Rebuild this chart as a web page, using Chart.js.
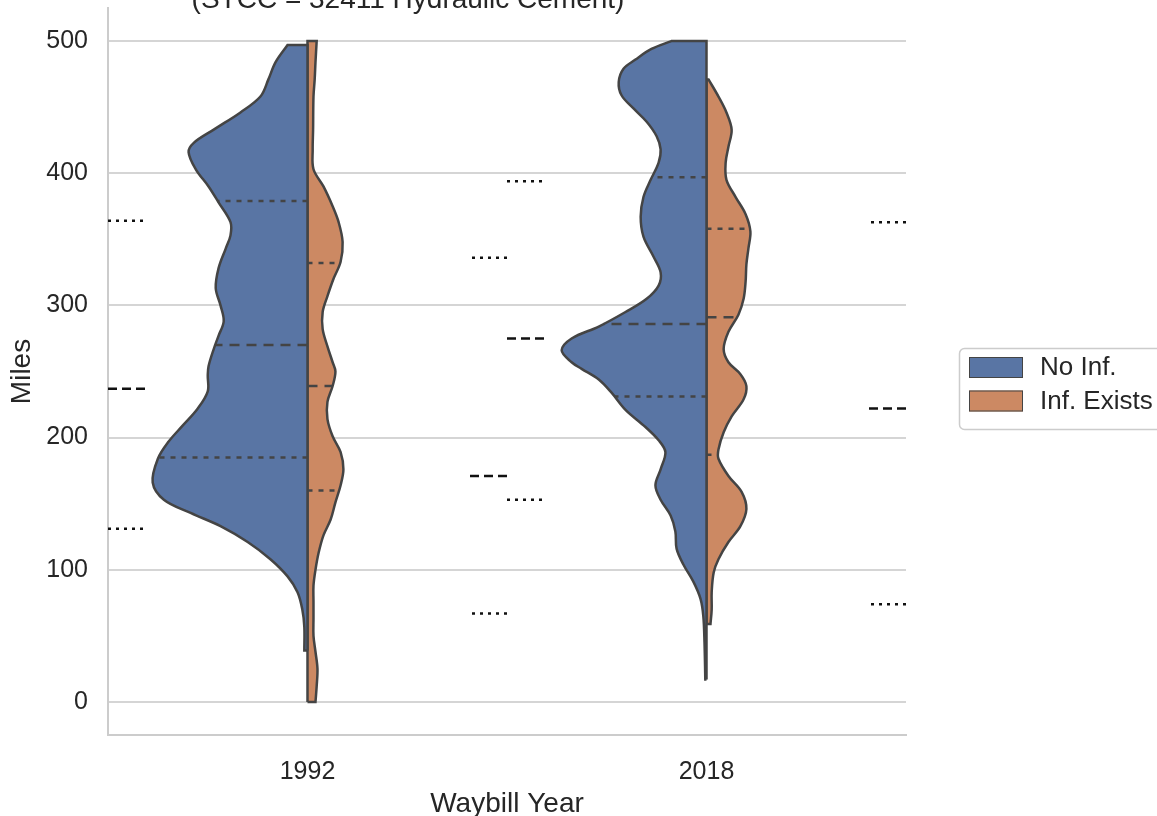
<!DOCTYPE html>
<html>
<head>
<meta charset="utf-8">
<title>Waybill miles by year</title>
<script src="https://cdn.jsdelivr.net/npm/chart.js@4.4.0/dist/chart.umd.min.js"></script>
<style>
  html, body { margin: 0; padding: 0; background: #fff; }
  canvas { display: block; }
</style>
</head>
<body>
<canvas id="violinChart" width="1157" height="816"></canvas>
<script>
const years = ['1992', '2018'];
const groups = ['No Inf.', 'Inf. Exists'];
const groupColors = ['#5975a4', '#cc8963'];
const yTicks = [0, 100, 200, 300, 400, 500];

// kernel density half-widths (category units) along the miles axis
const noInf1992Miles = [39, 57, 70, 83, 95, 108, 121, 133, 143, 153, 166, 184, 197, 209, 222, 235, 247, 254, 267, 277, 288, 300, 313, 328, 343, 353, 363, 378, 390, 403, 416, 423, 433, 446, 458, 471, 484, 497];
const noInf1992Width = [0.008, 0.008, 0.013, 0.025, 0.05, 0.093, 0.15, 0.218, 0.293, 0.36, 0.388, 0.375, 0.348, 0.313, 0.275, 0.25, 0.25, 0.248, 0.235, 0.223, 0.21, 0.218, 0.23, 0.223, 0.205, 0.193, 0.193, 0.223, 0.248, 0.28, 0.298, 0.285, 0.235, 0.168, 0.118, 0.098, 0.08, 0.05];
const noInf1992Quartiles = [185, 270, 379];

const inf1992Miles = [0, 12, 25, 38, 50, 63, 76, 88, 100, 113, 126, 138, 151, 164, 176, 189, 201, 214, 227, 239, 250, 257, 269, 282, 295, 307, 320, 333, 348, 363, 375, 390, 403, 418, 433, 458, 471, 484, 500];
const inf1992Width = [0.02, 0.023, 0.025, 0.02, 0.015, 0.015, 0.015, 0.015, 0.02, 0.028, 0.04, 0.058, 0.07, 0.083, 0.09, 0.083, 0.063, 0.05, 0.05, 0.063, 0.07, 0.063, 0.05, 0.038, 0.038, 0.05, 0.065, 0.083, 0.088, 0.078, 0.063, 0.04, 0.015, 0.013, 0.014, 0.015, 0.018, 0.02, 0.023];
const inf1992Quartiles = [160, 239, 332];

const noInf2018Miles = [17, 45, 65, 78, 91, 104, 116, 129, 141, 153, 164, 176, 189, 198, 208, 221, 234, 244, 252, 257, 266, 275, 284, 295, 305, 315, 325, 337, 352, 367, 382, 395, 408, 418, 428, 439, 449, 459, 469, 479, 486, 494, 500];
const noInf2018Width = [0.003, 0.005, 0.008, 0.015, 0.033, 0.058, 0.075, 0.078, 0.09, 0.115, 0.128, 0.115, 0.103, 0.12, 0.153, 0.203, 0.238, 0.27, 0.313, 0.338, 0.363, 0.338, 0.27, 0.203, 0.15, 0.12, 0.115, 0.133, 0.158, 0.165, 0.158, 0.14, 0.12, 0.115, 0.125, 0.15, 0.183, 0.213, 0.22, 0.208, 0.178, 0.138, 0.088];
const noInf2018Quartiles = [231, 286, 397];

const inf2018Miles = [59, 70, 83, 98, 108, 121, 133, 146, 159, 171, 184, 191, 204, 216, 229, 239, 248, 257, 267, 280, 293, 305, 318, 331, 343, 356, 369, 382, 395, 408, 420, 433, 446, 458, 471];
const inf2018Width = [0.01, 0.013, 0.013, 0.018, 0.03, 0.055, 0.085, 0.1, 0.088, 0.055, 0.03, 0.03, 0.043, 0.063, 0.093, 0.1, 0.085, 0.055, 0.043, 0.055, 0.08, 0.093, 0.098, 0.1, 0.105, 0.11, 0.098, 0.073, 0.05, 0.048, 0.055, 0.063, 0.05, 0.03, 0.005];
const inf2018Quartiles = [187, 291, 358];

// zero-width quartile marks sitting between the categories
const gapCenters = [-0.5, 0.5, 0.5, 1.5];
const gapSides = [1, -1, 1, -1];
const gapQuartiles = [[131, 237, 364], [67, 171, 336], [153, 275, 394], [74, 222, 363]];

const OUTLINE = '#444444';
const TEXT = '#262626';

Chart.defaults.font.family = '"Liberation Sans", Arial, sans-serif';
Chart.defaults.color = TEXT;

// closed half-violin outline; corner points doubled so the curve stays sharp there
function halfViolin(center, side, miles, widths) {
  const pts = [];
  const last = miles.length - 1;
  pts.push({ x: center, y: miles[0] }, { x: center, y: miles[0] });
  pts.push({ x: center + side * widths[0], y: miles[0] });
  for (let i = 0; i <= last; i++) {
    pts.push({ x: center + side * widths[i], y: miles[i] });
  }
  pts.push({ x: center + side * widths[last], y: miles[last] });
  pts.push({ x: center, y: miles[last] }, { x: center, y: miles[last] });
  pts.push({ x: center, y: miles[0] });
  return pts;
}

function widthAt(miles, widths, v) {
  for (let i = 1; i < miles.length; i++) {
    if (v <= miles[i]) {
      const t = (v - miles[i - 1]) / (miles[i] - miles[i - 1]);
      return widths[i - 1] + t * (widths[i] - widths[i - 1]);
    }
  }
  return widths[widths.length - 1];
}

const violins = [
  { center: 0, side: -1, miles: noInf1992Miles, widths: noInf1992Width, q: noInf1992Quartiles, group: 0 },
  { center: 0, side: 1, miles: inf1992Miles, widths: inf1992Width, q: inf1992Quartiles, group: 1 },
  { center: 1, side: -1, miles: noInf2018Miles, widths: noInf2018Width, q: noInf2018Quartiles, group: 0 },
  { center: 1, side: 1, miles: inf2018Miles, widths: inf2018Width, q: inf2018Quartiles, group: 1 }
];

const datasets = [];

violins.forEach((v) => {
  datasets.push({
    label: groups[v.group],
    data: halfViolin(v.center, v.side, v.miles, v.widths),
    backgroundColor: groupColors[v.group],
    borderColor: OUTLINE,
    borderWidth: 2.5,
    fill: 'shape',
    tension: 0.35,
    pointRadius: 0,
    order: 2
  });
  v.q.forEach((val, k) => {
    const w = widthAt(v.miles, v.widths, val);
    datasets.push({
      label: 'quartile',
      data: [{ x: v.center, y: val }, { x: v.center + v.side * w, y: val }],
      borderColor: OUTLINE,
      borderWidth: 2.5,
      borderDash: k === 1 ? [10, 7] : [5, 6],
      fill: false,
      pointRadius: 0,
      order: 1
    });
  });
});

gapCenters.forEach((c, g) => {
  gapQuartiles[g].forEach((val, k) => {
    datasets.push({
      label: 'gap',
      data: [{ x: c, y: val }, { x: c + gapSides[g] * 0.1, y: val }],
      borderColor: '#111111',
      borderWidth: 2.5,
      borderDash: k === 1 ? [9, 5] : [3, 5],
      fill: false,
      pointRadius: 0,
      order: 0
    });
  });
});

const extras = {
  id: 'extras',
  afterDraw(chart) {
    const ctx = chart.ctx;
    ctx.save();
    // title, its top half runs off the page
    ctx.fillStyle = TEXT;
    ctx.font = '28px "Liberation Sans", Arial, sans-serif';
    ctx.textAlign = 'center';
    ctx.textBaseline = 'alphabetic';
    ctx.fillText('(STCC = 32411 Hydraulic Cement)', 408, 8);

    // legend
    ctx.beginPath();
    ctx.roundRect(959.5, 348.5, 240, 81, 5);
    ctx.fillStyle = 'rgba(255,255,255,0.8)';
    ctx.fill();
    ctx.strokeStyle = '#cccccc';
    ctx.lineWidth = 1.5;
    ctx.stroke();
    ctx.font = '26px "Liberation Sans", Arial, sans-serif';
    ctx.textAlign = 'left';
    ctx.textBaseline = 'middle';
    groups.forEach((g, i) => {
      const y = 357 + i * 33.5;
      ctx.fillStyle = groupColors[i];
      ctx.fillRect(969, y, 54, 21);
      ctx.strokeStyle = OUTLINE;
      ctx.lineWidth = 1;
      ctx.strokeRect(969.5, y + 0.5, 53, 20);
      ctx.fillStyle = TEXT;
      ctx.fillText(g, 1040, y + 11);
    });
    ctx.restore();
  }
};

new Chart(document.getElementById('violinChart'), {
  type: 'line',
  data: { datasets },
  options: {
    responsive: false,
    animation: false,
    events: [],
    layout: { padding: { left: 0, top: 8, right: 251, bottom: 0 } },
    plugins: {
      legend: { display: false },
      tooltip: { enabled: false }
    },
    scales: {
      x: {
        type: 'linear',
        min: -0.5,
        max: 1.5,
        afterBuildTicks: (s) => { s.ticks = years.map((_, i) => ({ value: i })); },
        afterFit: (s) => {
          s.height = 81;
          s.paddingLeft = 0;
          s.paddingRight = 0;
        },
        ticks: {
          font: { size: 25 },
          color: TEXT,
          padding: 22,
          maxRotation: 0,
          callback: (v) => years[v]
        },
        grid: { display: false, drawTicks: false },
        border: { display: true, color: '#cccccc', width: 2 },
        title: {
          display: true,
          text: 'Waybill Year',
          font: { size: 28, lineHeight: 1 },
          color: TEXT,
          padding: { top: 0, bottom: -2 }
        }
      },
      y: {
        type: 'linear',
        min: -25,
        max: 525,
        afterBuildTicks: (s) => { s.ticks = yTicks.map((v) => ({ value: v })); },
        afterFit: (s) => {
          s.width = 108;
          s.paddingTop = 0;
          s.paddingBottom = 0;
        },
        ticks: { font: { size: 25 }, color: TEXT, padding: 20 },
        grid: { color: '#d5d5d5', lineWidth: 2, drawTicks: false },
        border: { display: true, color: '#cccccc', width: 2 },
        title: {
          display: true,
          text: 'Miles',
          font: { size: 28, lineHeight: 1 },
          color: TEXT,
          padding: { top: 8, bottom: 0 }
        }
      }
    }
  },
  plugins: [extras]
});
</script>
</body>
</html>
